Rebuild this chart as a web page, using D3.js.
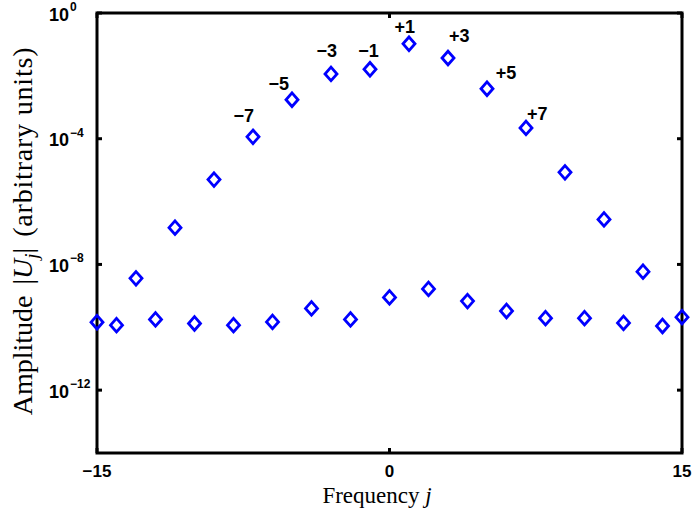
<!DOCTYPE html>
<html>
<head>
<meta charset="utf-8">
<script src="https://cdn.jsdelivr.net/npm/d3@7"></script>
<style>
  body { margin: 0; background: #fff; }
  svg { display: block; }
</style>
</head>
<body>
<div id="chart"></div>
<script>
// odd harmonics (the big hump)
var oddJ = [-13, -11, -9, -7, -5, -3, -1, 1, 3, 5, 7, 9, 11, 13];
var oddAmp = [3.6e-9, 1.48e-7, 5.0e-6, 1.15e-4, 1.74e-3, 1.15e-2, 1.62e-2,
              0.105, 3.7e-2, 3.9e-3, 2.2e-4, 8.5e-6, 2.7e-7, 5.9e-9];
// even harmonics + the edges (noise floor)
var evenJ = [-15, -14, -12, -10, -8, -6, -4, -2, 0, 2, 4, 6, 8, 10, 12, 14, 15];
var evenAmp = [1.45e-10, 1.17e-10, 1.78e-10, 1.32e-10, 1.17e-10, 1.48e-10, 3.98e-10,
               1.78e-10, 8.9e-10, 1.66e-9, 6.8e-10, 3.3e-10, 1.95e-10, 1.95e-10,
               1.38e-10, 1.1e-10, 2.1e-10];
// text annotations, placed in data coords like text(x, y, str)
var labelText = ["\u22127", "\u22125", "\u22123", "\u22121", "+1", "+3", "+5", "+7"];
var labelX = [-8.0, -6.2, -3.75, -1.6, 0.25, 3.05, 5.45, 7.05];
var labelY = [5.6e-4, 5.6e-3, 6.2e-2, 6.5e-2, 0.37, 0.19, 1.3e-2, 6.5e-4];
var xTicks = [-15, 0, 15];
var xTickLabels = ["\u221215", "0", "15"];
var yTicks = [1, 1e-4, 1e-8, 1e-12];
var yTickExp = ["0", "\u22124", "\u22128", "\u221212"];

var width = 694, height = 517;
var margin = {top: 13, right: 12, bottom: 64, left: 97};

var svg = d3.select("#chart").append("svg")
    .attr("width", width)
    .attr("height", height);

var x = d3.scaleLinear()
    .domain([-15, 15])
    .range([margin.left, width - margin.right]);

var y = d3.scaleLog()
    .domain([1e-14, 1])
    .range([height - margin.bottom, margin.top]);

var x0 = x.range()[0], x1 = x.range()[1];
var y0 = y.range()[0], y1 = y.range()[1];
var tickLen = 5;

var axes = svg.append("g").attr("stroke", "#000").attr("stroke-width", 3);

// x ticks, bottom and top, pointing in
xTicks.forEach(function (t) {
    axes.append("line").attr("x1", x(t)).attr("x2", x(t)).attr("y1", y0).attr("y2", y0 - tickLen);
    axes.append("line").attr("x1", x(t)).attr("x2", x(t)).attr("y1", y1).attr("y2", y1 + tickLen);
});
yTicks.forEach(function (t) {
    axes.append("line").attr("x1", x0).attr("x2", x0 + tickLen).attr("y1", y(t)).attr("y2", y(t));
    axes.append("line").attr("x1", x1).attr("x2", x1 - tickLen).attr("y1", y(t)).attr("y2", y(t));
});

axes.append("rect")
    .attr("x", x0).attr("y", y1)
    .attr("width", x1 - x0).attr("height", y0 - y1)
    .attr("fill", "none");

var tickFont = "'Liberation Sans', Arial, Helvetica, sans-serif";

svg.append("g").selectAll("text")
    .data(xTicks)
    .enter().append("text")
    .attr("x", function (d) { return x(d); })
    .attr("y", 477)
    .attr("text-anchor", "middle")
    .attr("font-family", tickFont)
    .attr("font-weight", "bold")
    .attr("font-size", 17)
    .text(function (d, i) { return xTickLabels[i]; });

var yl = svg.append("g").selectAll("g")
    .data(yTicks)
    .enter().append("g")
    .attr("transform", function (d) { return "translate(0," + y(d) + ")"; });

yl.append("text")
    .attr("x", 69)
    .attr("y", 7.5)
    .attr("text-anchor", "end")
    .attr("font-family", tickFont)
    .attr("font-weight", "bold")
    .attr("font-size", 18)
    .text("10");

yl.append("text")
    .attr("x", 70)
    .attr("y", -2)
    .attr("font-family", tickFont)
    .attr("font-weight", "bold")
    .attr("font-size", 12)
    .text(function (d, i) { return yTickExp[i]; });

// MATLAB style 'd' marker
var diamond = {
    draw: function (ctx, size) {
        var w = 6, h = 6.8;
        ctx.moveTo(0, -h);
        ctx.lineTo(w, 0);
        ctx.lineTo(0, h);
        ctx.lineTo(-w, 0);
        ctx.closePath();
    }
};

var pts = oddJ.map(function (j, i) { return [j, oddAmp[i]]; })
    .concat(evenJ.map(function (j, i) { return [j, evenAmp[i]]; }));

svg.append("g").selectAll("path")
    .data(pts)
    .enter().append("path")
    .attr("transform", function (d) { return "translate(" + x(d[0]) + "," + y(d[1]) + ")"; })
    .attr("d", d3.symbol().type(diamond))
    .attr("fill", "none")
    .attr("stroke", "#0000ff")
    .attr("stroke-width", 2.8);

svg.append("g").selectAll("text")
    .data(labelText)
    .enter().append("text")
    .attr("x", function (d, i) { return x(labelX[i]); })
    .attr("y", function (d, i) { return y(labelY[i]); })
    .attr("dy", "0.36em")
    .attr("font-family", tickFont)
    .attr("font-weight", "bold")
    .attr("font-size", 18)
    .text(function (d) { return d; });

var serif = "'Liberation Serif', 'Times New Roman', serif";

var xl = svg.append("text")
    .attr("x", 377)
    .attr("y", 503)
    .attr("text-anchor", "middle")
    .attr("font-family", serif)
    .attr("font-size", 23);
xl.append("tspan").text("Frequency ");
xl.append("tspan").attr("font-style", "italic").text("j");

var ylab = svg.append("text")
    .attr("transform", "translate(32,231) rotate(-90)")
    .attr("text-anchor", "middle")
    .attr("font-family", serif)
    .attr("font-size", 28);
ylab.append("tspan").text("Amplitude");
ylab.append("tspan").attr("dx", 11).text("|");
ylab.append("tspan").attr("font-style", "italic").text("U");
ylab.append("tspan").attr("font-style", "italic").attr("font-size", 19).attr("dy", 6).text("j");
ylab.append("tspan").attr("dy", -6).text("|");
ylab.append("tspan").attr("dx", 11).attr("letter-spacing", 0.8).text("(arbitrary units)");
</script>
</body>
</html>
